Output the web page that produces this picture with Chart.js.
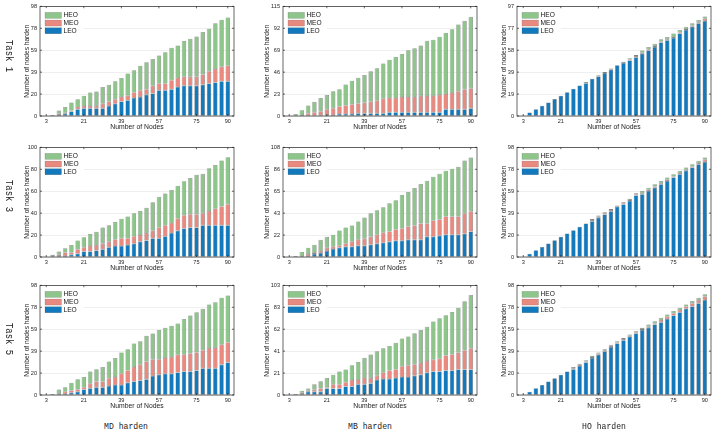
<!DOCTYPE html>
<html>
<head>
<meta charset="utf-8">
<script src="https://cdn.jsdelivr.net/npm/chart.js@4.4.0/dist/chart.umd.min.js"></script>
<style>
body { margin: 0; background: #fff; width: 716px; height: 432px; position: relative; overflow: hidden; }
canvas { position: absolute; }
.row-label, .col-label {
    position: absolute;
    font-family: "Liberation Mono", monospace;
    color: #222;
    white-space: pre;
}
.row-label { font-size: 10.5px; transform: translate(-50%, -50%) rotate(90deg) scaleX(0.85); }
.col-label { font-size: 9.8px; transform: translate(-50%, -50%) scaleX(0.83); }
</style>
</head>
<body>
<script>
// Data kategori (jumlah node)
const nodes = [3, 6, 9, 12, 15, 18, 21, 24, 27, 30, 33, 36, 39, 42, 45, 48, 51, 54, 57, 60, 63, 66, 69, 72, 75, 78, 81, 84, 87, 90];
const xTickValues = [3, 21, 39, 57, 75, 90];

// MD harden
const mdTask1Leo = [0, 1, 1, 2, 4, 6, 7, 7, 7, 7, 9, 11, 13, 14, 16, 17, 19, 20, 23, 23, 24, 26, 27, 27, 27, 28, 29, 30, 31, 31];
const mdTask1Meo = [0, 0, 1, 1, 1, 2, 2, 2, 2, 4, 4, 4, 4, 4, 5, 6, 5, 7, 6, 6, 8, 8, 8, 8, 8, 9, 11, 12, 13, 14];
const mdTask1Heo = [0, 0, 3, 5, 7, 7, 9, 12, 13, 15, 15, 16, 17, 20, 20, 22, 24, 24, 25, 28, 29, 29, 32, 34, 36, 38, 38, 41, 42, 43];
const mdTask3Leo = [0, 0, 1, 1, 2, 3, 5, 5, 6, 7, 9, 10, 10, 11, 12, 14, 15, 17, 17, 19, 22, 24, 26, 27, 27, 29, 29, 29, 29, 29];
const mdTask3Meo = [0, 1, 1, 3, 2, 4, 4, 5, 5, 5, 5, 6, 7, 6, 7, 6, 7, 7, 10, 10, 9, 11, 12, 12, 12, 11, 13, 15, 17, 19];
const mdTask3Heo = [0, 1, 3, 4, 7, 8, 9, 11, 12, 15, 15, 16, 18, 20, 21, 22, 23, 26, 28, 29, 30, 30, 31, 33, 36, 36, 39, 40, 42, 43];
const mdTask5Leo = [0, 0, 1, 1, 2, 3, 5, 6, 7, 7, 8, 9, 9, 11, 12, 13, 14, 17, 18, 19, 19, 20, 21, 21, 22, 24, 24, 24, 27, 29];
const mdTask5Meo = [0, 0, 0, 2, 2, 2, 2, 4, 5, 5, 7, 7, 10, 11, 13, 14, 16, 15, 14, 14, 15, 16, 15, 16, 16, 16, 18, 18, 18, 18];
const mdTask5Heo = [0, 1, 4, 4, 7, 9, 9, 11, 11, 13, 15, 17, 19, 19, 21, 21, 23, 23, 26, 27, 28, 28, 32, 34, 36, 37, 39, 41, 42, 42];

// MB harden
const mbTask1Leo = [0, 0, 0, 0, 0, 0, 1, 1, 2, 2, 2, 3, 3, 3, 3, 3, 4, 4, 4, 4, 4, 4, 4, 4, 4, 7, 7, 7, 7, 8];
const mbTask1Meo = [0, 0, 1, 3, 4, 5, 6, 7, 8, 9, 10, 10, 11, 12, 13, 15, 15, 15, 16, 16, 16, 17, 17, 17, 18, 16, 17, 19, 21, 21];
const mbTask1Heo = [0, 2, 5, 8, 11, 14, 15, 18, 18, 22, 25, 27, 29, 32, 34, 37, 40, 43, 45, 49, 51, 53, 58, 59, 61, 64, 67, 70, 72, 75];
const mbTask3Leo = [0, 0, 0, 1, 3, 4, 6, 8, 9, 10, 10, 11, 11, 12, 13, 14, 15, 16, 16, 17, 17, 17, 20, 20, 21, 22, 22, 22, 23, 25];
const mbTask3Meo = [0, 0, 1, 2, 1, 2, 3, 2, 2, 3, 5, 6, 7, 8, 9, 10, 10, 11, 12, 13, 14, 16, 13, 16, 16, 18, 18, 18, 20, 20];
const mbTask3Heo = [0, 1, 4, 6, 8, 11, 11, 12, 15, 16, 16, 18, 21, 23, 24, 25, 28, 29, 33, 34, 37, 39, 42, 43, 45, 45, 47, 49, 52, 53];
const mbTask5Leo = [0, 1, 1, 3, 3, 3, 6, 6, 6, 8, 8, 10, 10, 11, 14, 15, 15, 16, 17, 17, 18, 19, 21, 22, 22, 23, 23, 24, 24, 24];
const mbTask5Meo = [0, 0, 1, 1, 2, 3, 1, 4, 4, 4, 6, 4, 6, 5, 4, 6, 8, 8, 10, 11, 11, 11, 11, 11, 12, 14, 15, 16, 18, 20];
const mbTask5Heo = [0, 0, 2, 2, 5, 7, 9, 9, 12, 12, 14, 17, 19, 22, 23, 23, 23, 25, 26, 27, 29, 31, 32, 36, 38, 38, 40, 42, 46, 50];

// HO harden
const hoTask1Leo = [0, 3, 6, 9, 12, 15, 18, 21, 24, 27, 29, 33, 35, 38, 41, 45, 47, 49, 52, 55, 58, 61, 65, 67, 69, 73, 76, 79, 82, 84];
const hoTask1Meo = [0, 0, 0, 0, 0, 0, 0, 0, 0, 0, 0, 0, 0, 0, 0, 0, 0, 1, 1, 1, 1, 1, 1, 1, 1, 1, 1, 1, 1, 2];
const hoTask1Heo = [0, 0, 0, 0, 0, 0, 0, 0, 0, 0, 1, 0, 1, 1, 1, 0, 1, 1, 1, 2, 2, 2, 2, 2, 3, 2, 2, 2, 2, 2];
const hoTask3Leo = [0, 3, 6, 9, 12, 15, 18, 21, 24, 27, 30, 32, 35, 38, 41, 45, 47, 50, 55, 56, 59, 62, 65, 68, 71, 74, 77, 80, 83, 85];
const hoTask3Meo = [0, 0, 0, 0, 0, 0, 0, 0, 0, 0, 0, 1, 1, 1, 1, 0, 1, 1, 1, 1, 1, 1, 1, 1, 1, 1, 1, 1, 1, 2];
const hoTask3Heo = [0, 0, 0, 0, 0, 0, 0, 0, 0, 0, 0, 1, 1, 1, 1, 1, 1, 1, 1, 2, 2, 2, 2, 2, 2, 2, 2, 2, 2, 2];
const hoTask5Leo = [0, 3, 6, 9, 12, 15, 18, 21, 23, 26, 29, 33, 36, 39, 43, 46, 49, 52, 55, 58, 60, 63, 65, 68, 71, 74, 77, 79, 82, 85];
const hoTask5Meo = [0, 0, 0, 0, 0, 0, 0, 0, 1, 1, 1, 1, 1, 1, 1, 1, 1, 1, 1, 1, 1, 1, 2, 2, 2, 2, 2, 3, 3, 3];
const hoTask5Heo = [0, 0, 0, 0, 0, 0, 0, 0, 1, 1, 1, 1, 1, 1, 1, 1, 1, 1, 1, 1, 2, 2, 2, 2, 2, 2, 2, 2, 2, 2];

// Label sumbu Y tiap panel (nilai terakhir = batas atas)
const yTicksMdTask1 = [0, 20, 39, 59, 78, 98];
const yTicksMbTask1 = [0, 23, 46, 69, 92, 115];
const yTicksHoTask1 = [0, 19, 39, 58, 77, 97];
const yTicksMdTask3 = [0, 20, 40, 60, 80, 100];
const yTicksMbTask3 = [0, 22, 43, 65, 86, 108];
const yTicksHoTask3 = [0, 20, 39, 59, 78, 98];
const yTicksMdTask5 = [0, 20, 39, 59, 78, 98];
const yTicksMbTask5 = [0, 21, 41, 62, 83, 103];
const yTicksHoTask5 = [0, 20, 39, 59, 78, 98];

const rowLabels = ['Task 1', 'Task 3', 'Task 5'];
const colLabels = ['MD harden', 'MB harden', 'HO harden'];

const panels = [
    [mdTask1Leo, mdTask1Meo, mdTask1Heo, yTicksMdTask1],
    [mbTask1Leo, mbTask1Meo, mbTask1Heo, yTicksMbTask1],
    [hoTask1Leo, hoTask1Meo, hoTask1Heo, yTicksHoTask1],
    [mdTask3Leo, mdTask3Meo, mdTask3Heo, yTicksMdTask3],
    [mbTask3Leo, mbTask3Meo, mbTask3Heo, yTicksMbTask3],
    [hoTask3Leo, hoTask3Meo, hoTask3Heo, yTicksHoTask3],
    [mdTask5Leo, mdTask5Meo, mdTask5Heo, yTicksMdTask5],
    [mbTask5Leo, mbTask5Meo, mbTask5Heo, yTicksMbTask5],
    [hoTask5Leo, hoTask5Meo, hoTask5Heo, yTicksHoTask5]
];

// Tata letak
const colLeft = [40, 283, 517];
const rowTop = [6, 147, 285];
const plotW = 194, plotH = 110;
const padL = 38, padT = 6, padR = 4, padB = 22;
const yTitlePad = [21, 18, 21];
const rowLabelY = [56, 196, 339];
const colLabelX = [126, 369.5, 604];

const colors = { LEO: '#1379BD', MEO: '#E88A7F', HEO: '#8DC58A' };

Chart.defaults.font.family = '"Liberation Sans", Arial, sans-serif';
Chart.defaults.color = '#262626';

// Plugin: bayangan batang, kotak sumbu, tick kecil, legenda
const boxPlugin = {
    id: 'box',
    beforeDatasetsDraw(chart) {
        const ctx = chart.ctx;
        ctx.save();
        ctx.shadowColor = 'rgba(0,0,0,0.22)';
        ctx.shadowOffsetX = 1.4;
        ctx.shadowOffsetY = 0;
        ctx.shadowBlur = 0;
    },
    afterDatasetsDraw(chart) {
        chart.ctx.restore();
    },
    afterDraw(chart) {
        const { ctx, chartArea: a, scales: { x, y } } = chart;
        ctx.save();
        ctx.strokeStyle = '#262626';
        ctx.lineWidth = 0.7;
        ctx.strokeRect(a.left, a.top, a.right - a.left, a.bottom - a.top);
        ctx.beginPath();
        y.ticks.forEach(t => {
            const py = y.getPixelForValue(t.value);
            ctx.moveTo(a.left, py); ctx.lineTo(a.left + 2, py);
            ctx.moveTo(a.right, py); ctx.lineTo(a.right - 2, py);
        });
        x.ticks.forEach(t => {
            const px = x.getPixelForValue(t.value);
            ctx.moveTo(px, a.bottom); ctx.lineTo(px, a.bottom - 2);
            ctx.moveTo(px, a.top); ctx.lineTo(px, a.top + 2);
        });
        ctx.stroke();

        // legenda
        ctx.fillStyle = '#fff';
        ctx.fillRect(a.left + 2, a.top + 2, 42, 27);
        const items = chart.data.datasets.slice().reverse();
        ctx.font = '6.6px "Liberation Sans", Arial, sans-serif';
        ctx.textBaseline = 'middle';
        items.forEach((ds, k) => {
            const cy = a.top + 9 + k * 7.7;
            ctx.fillStyle = ds.backgroundColor;
            ctx.fillRect(a.left + 5, cy - 3, 16.5, 6);
            ctx.strokeStyle = 'rgba(60,60,60,0.4)';
            ctx.lineWidth = 0.4;
            ctx.strokeRect(a.left + 5, cy - 3, 16.5, 6);
            ctx.fillStyle = '#111';
            ctx.fillText(ds.label, a.left + 23.5, cy + 0.3);
        });
        ctx.restore();
    }
};

function makeDataset(label, values) {
    return {
        label: label,
        data: nodes.map((n, i) => ({ x: n, y: values[i] })),
        backgroundColor: colors[label],
        borderColor: 'rgba(50,50,50,0.55)',
        borderWidth: 0.5,
        borderSkipped: false,
        barPercentage: 0.7,
        categoryPercentage: 1.0
    };
}

panels.forEach((p, idx) => {
    const row = Math.floor(idx / 3), col = idx % 3;
    const [leo, meo, heo, yTicks] = p;
    const yMax = yTicks[yTicks.length - 1];

    const canvas = document.createElement('canvas');
    const w = padL + plotW + padR, h = padT + plotH + padB;
    canvas.width = w; canvas.height = h;
    canvas.style.width = w + 'px'; canvas.style.height = h + 'px';
    canvas.style.left = (colLeft[col] - padL) + 'px';
    canvas.style.top = (rowTop[row] - padT) + 'px';
    document.body.appendChild(canvas);

    new Chart(canvas.getContext('2d'), {
        type: 'bar',
        data: {
            datasets: [makeDataset('LEO', leo), makeDataset('MEO', meo), makeDataset('HEO', heo)]
        },
        options: {
            responsive: false,
            animation: false,
            devicePixelRatio: 1,
            layout: { padding: { left: 0, top: padT, right: padR, bottom: 0 } },
            plugins: { legend: { display: false }, tooltip: { enabled: false } },
            scales: {
                x: {
                    type: 'linear',
                    stacked: true,
                    min: 0,
                    max: 93,
                    offset: false,
                    afterBuildTicks: s => { s.ticks = xTickValues.map(v => ({ value: v })); },
                    afterFit: s => { s.height = padB; },
                    ticks: { font: { size: 5.6 }, padding: 2, autoSkip: false, maxRotation: 0, callback: v => v },
                    grid: { display: false, drawTicks: false },
                    border: { display: false },
                    title: { display: true, text: 'Number of Nodes', font: { size: 6.8 }, color: '#222', padding: { top: 0, bottom: 7 } }
                },
                y: {
                    stacked: true,
                    min: 0,
                    max: yMax,
                    afterBuildTicks: s => { s.ticks = yTicks.map((v, i) => ({ value: yMax * i / 5 })); },
                    afterFit: s => { s.width = padL; },
                    ticks: { font: { size: 5.6 }, padding: 3, callback: (v, i) => yTicks[i] },
                    grid: { color: '#e4e4e4', lineWidth: 0.6, drawTicks: false },
                    border: { display: false },
                    title: { display: true, text: 'Number of nodes harden', font: { size: 6.6 }, color: '#222', padding: { top: yTitlePad[col], bottom: 0 } }
                }
            }
        },
        plugins: [boxPlugin]
    });
});

// Label baris dan kolom
rowLabels.forEach((t, r) => {
    const d = document.createElement('div');
    d.className = 'row-label';
    d.textContent = t;
    d.style.left = '8.5px';
    d.style.top = rowLabelY[r] + 'px';
    document.body.appendChild(d);
});
colLabels.forEach((t, c) => {
    const d = document.createElement('div');
    d.className = 'col-label';
    d.textContent = t;
    d.style.left = colLabelX[c] + 'px';
    d.style.top = '425.7px';
    document.body.appendChild(d);
});
</script>
</body>
</html>
